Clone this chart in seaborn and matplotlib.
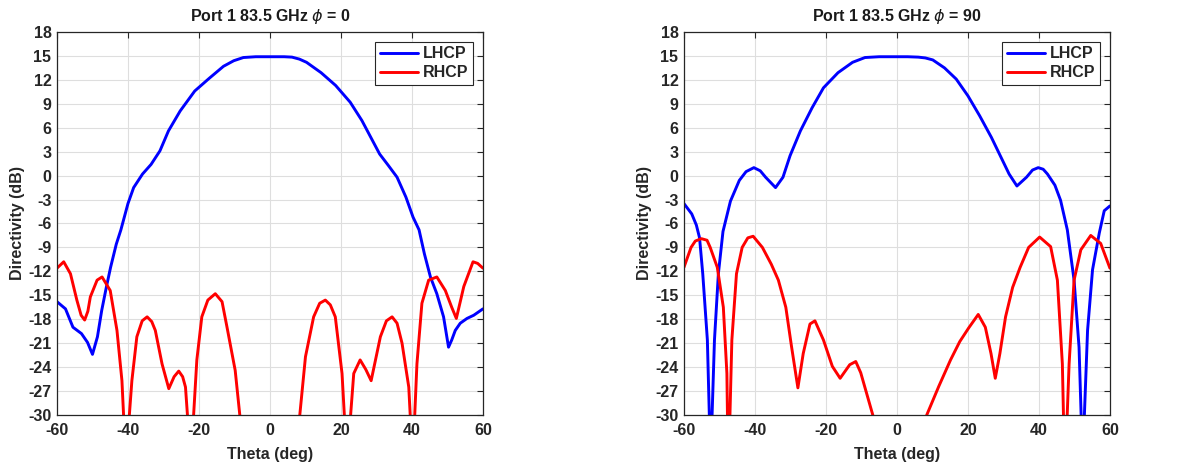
"""
Directivity cuts (LHCP / RHCP) at 83.5 GHz, phi = 0 and phi = 90.
"""

import numpy as np
import pandas as pd
import matplotlib.pyplot as plt
import seaborn as sns

sns.set_theme(style="whitegrid")
plt.rcParams["font.family"] = ["Liberation Sans", "DejaVu Sans"]
plt.rcParams["font.weight"] = "bold"
plt.rcParams["axes.labelweight"] = "bold"
plt.rcParams["axes.titleweight"] = "bold"
plt.rcParams["axes.unicode_minus"] = False
plt.rcParams["mathtext.fontset"] = "custom"
plt.rcParams["mathtext.it"] = "DejaVu Sans:italic:weight=normal"
plt.rcParams["mathtext.rm"] = "Liberation Sans:bold"

# ---- phi = 0 cut ----
phi0_lhcp_theta = [-60, -57.6, -55.5, -53.1, -51.4, -50.0, -48.6, -47.4, -46.1, -44.9,
                   -43.3, -42.0, -40, -38.4, -35.9, -33.5, -31.0, -28.6, -25.3, -21.2,
                   -17.1, -13.1, -10.2, -7.5, -4, 0, 4, 6.2, 8.3, 10.3,
                   14.4, 18.5, 22.6, 25.9, 28.4, 30.9, 33.3, 35.8, 38.3, 40.3,
                   42.0, 43.5, 45.2, 47.0, 48.9, 50.3, 51.2, 52.2, 53.6, 55.5,
                   57.4, 60]
phi0_lhcp_db = [-15.8, -16.7, -19.0, -19.8, -20.9, -22.4, -20.2, -16.9, -14.0, -11.5,
                -8.6, -6.8, -3.5, -1.5, 0.2, 1.4, 3.1, 5.6, 8.1, 10.6,
                12.2, 13.7, 14.4, 14.8, 14.9, 14.9, 14.9, 14.85, 14.6, 14.2,
                12.9, 11.3, 9.2, 6.9, 4.8, 2.7, 1.3, -0.2, -2.7, -5.2,
                -6.8, -9.8, -12.7, -14.8, -17.7, -21.5, -20.6, -19.4, -18.5, -17.9,
                -17.5, -16.7]

phi0_rhcp_theta = [-60, -58.1, -56.2, -54.4, -53.2, -52.2, -51.3, -50.6, -48.7, -47.3,
                   -45.0, -43.1, -41.7, -40.6, -38.9, -37.5, -36, -34.6, -33.3, -32.3,
                   -30.4, -28.5, -27, -25.7, -24.6, -23.8, -22.3, -20.6, -19.2, -17.5,
                   -15.4, -13.5, -12.1, -9.8, -8.5, -8.0,
                   8.0, 8.4, 10.0, 12.3, 14, 15.6, 17, 18.4, 20.3, 21.7,
                   23.6, 25.4, 27, 28.5, 31.1, 32.8, 34.4, 35.8, 37.2, 39.1,
                   40.2, 41.4, 42.8, 44.7, 47.0, 49.4, 51.2, 52.5, 53.5, 54.6,
                   57.2, 58.5, 60]
phi0_rhcp_db = [-11.6, -10.8, -12.3, -15.6, -17.5, -18.1, -17.0, -15.2, -13.1, -12.7,
                -14.4, -19.4, -25.7, -36, -25.7, -20.2, -18.2, -17.7, -18.3, -19.4,
                -23.6, -26.7, -25.2, -24.5, -25.2, -26.5, -36, -23.1, -17.7, -15.6,
                -14.8, -15.8, -19.0, -24.4, -30, -33,
                -33, -30, -22.7, -17.7, -16.0, -15.6, -16.2, -17.7, -24.8, -36,
                -24.8, -23.1, -24.3, -25.7, -20.2, -18.2, -17.7, -18.5, -21.0, -26.5,
                -36, -23.6, -16.0, -13.1, -12.7, -14.4, -16.5, -17.9, -16.0, -13.9,
                -10.8, -11.0, -11.6]

# ---- phi = 90 cut ----
phi90_lhcp_theta = [-60, -57.8, -56.5, -55.6, -54.7, -53.4, -52.5, -51.4, -50.3, -49.0,
                    -46.9, -44.4, -42.5, -40.3, -38.5, -37.0, -34.2, -32.1, -30.1, -27.2,
                    -23.9, -20.7, -16.6, -12.5, -9, -5, 0, 3, 6.0, 8,
                    10.1, 13.4, 16.7, 20.0, 23.3, 26.6, 29.1, 31.6, 33.8, 36.5,
                    38.2, 39.8, 41.2, 42.4, 44.5, 46.1, 48.0, 49.9, 51.3, 52.3,
                    53.7, 55.1, 57.0, 58.4, 60]
phi90_lhcp_db = [-3.5, -4.8, -6.2, -7.8, -12.3, -20.6, -36, -20.6, -12.3, -7.0,
                 -3.2, -0.6, 0.5, 1.0, 0.6, -0.2, -1.5, -0.2, 2.5, 5.6,
                 8.5, 11.0, 12.9, 14.2, 14.8, 14.9, 14.9, 14.9, 14.85, 14.75,
                 14.5, 13.5, 12.1, 10.0, 7.5, 4.8, 2.5, 0.2, -1.3, -0.2,
                 0.7, 1.0, 0.8, 0.2, -1.2, -3.1, -6.8, -13.1, -21.5, -36,
                 -19.4, -11.8, -7.2, -4.4, -3.8]

phi90_rhcp_theta = [-60, -58.0, -56.8, -55.1, -53.5, -52.6, -50.6, -48.9, -47.9, -47.5,
                    -46.5, -45.2, -43.6, -42, -40.5, -37.9, -35.4, -33.4, -31.3, -29.7,
                    -27.9, -26.4, -24.5, -23.1, -20.7, -18.2, -16.0, -13.3, -11.6, -10.2,
                    -6.8, -6.0,
                    7.5, 8.4, 11.8, 15.1, 17.7, 20.2, 22.9, 24.9, 26.5, 27.7,
                    29.0, 30.6, 32.6, 34.7, 37.1, 40.2, 43.3, 45.2, 46.6, 47.3,
                    48.5, 49.9, 51.8, 54.6, 57.4, 60]
phi90_rhcp_db = [-11.5, -9.0, -8.2, -7.9, -8.1, -9.0, -11.5, -16.5, -24.8, -38,
                 -20.6, -12.3, -9.0, -7.8, -7.6, -9.0, -11.1, -13.1, -16.5, -21.4,
                 -26.6, -22.3, -18.6, -18.2, -20.6, -23.9, -25.4, -23.7, -23.3, -24.7,
                 -30, -33,
                 -33, -30, -26.4, -23.1, -20.8, -19.1, -17.4, -19.0, -22.3, -25.4,
                 -22.3, -17.7, -14.0, -11.5, -9.0, -7.7, -8.9, -13.1, -23.6, -38,
                 -23.6, -13.1, -9.3, -7.5, -8.5, -11.6]

titles = [r"Port 1 83.5 GHz $\phi$ = 0", r"Port 1 83.5 GHz $\phi$ = 90"]
panels = [
    (phi0_lhcp_theta, phi0_lhcp_db, phi0_rhcp_theta, phi0_rhcp_db),
    (phi90_lhcp_theta, phi90_lhcp_db, phi90_rhcp_theta, phi90_rhcp_db),
]

fig = plt.figure(figsize=(12.02, 4.74), dpi=100)
ax_pos = [[0.0474, 0.1245, 0.3544, 0.808], [0.569, 0.1245, 0.3544, 0.808]]

for pos, title, (lt, ld, rt, rd) in zip(ax_pos, titles, panels):
    ax = fig.add_axes(pos)
    lhcp = pd.DataFrame({"theta": lt, "db": ld})
    rhcp = pd.DataFrame({"theta": rt, "db": rd})
    sns.lineplot(data=lhcp, x="theta", y="db", color="#0000ff", linewidth=2.1,
                 estimator=None, label="LHCP", ax=ax)
    sns.lineplot(data=rhcp, x="theta", y="db", color="#ff0000", linewidth=2.1,
                 estimator=None, label="RHCP", ax=ax)

    ax.set_xlim(-60, 60)
    ax.set_ylim(-30, 18)
    ax.set_xticks(np.arange(-60, 61, 20))
    ax.set_yticks(np.arange(-30, 19, 3))
    ax.set_facecolor("white")
    ax.grid(True, color="#dedede", linewidth=0.8)
    for s in ax.spines.values():
        s.set_color("#262626")
        s.set_linewidth(0.9)
    ax.tick_params(direction="in", top=True, right=True, length=4, width=0.8,
                   colors="#262626", labelsize=11.5)
    ax.tick_params(axis="x", pad=6)
    ax.tick_params(axis="y", pad=4)
    for lab in ax.get_xticklabels() + ax.get_yticklabels():
        lab.set_fontweight("bold")
        lab.set_color("#262626")

    ax.set_title(title, fontsize=11.5, pad=8, color="#1a1a1a")
    ax.set_xlabel("Theta (deg)", fontsize=11.5, color="#262626", labelpad=6)
    ax.set_ylabel("Directivity (dB)", fontsize=11.5, color="#262626", labelpad=2)

    leg = ax.legend(loc="upper right", frameon=True, fancybox=False, framealpha=1,
                    edgecolor="#262626", fontsize=11.5, handlelength=2.4,
                    borderaxespad=0.6, borderpad=0.3, labelspacing=0.25,
                    handletextpad=0.3)
    leg.get_frame().set_linewidth(0.8)
    for t in leg.get_texts():
        t.set_fontweight("bold")

plt.savefig("out.png", dpi=100)
plt.close()
